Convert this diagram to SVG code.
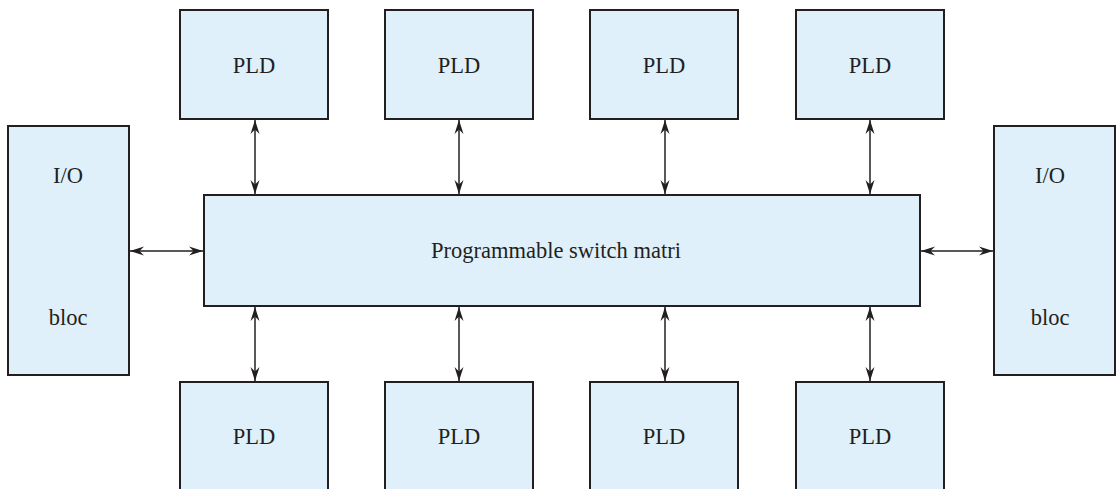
<svg xmlns="http://www.w3.org/2000/svg" width="1116" height="489" viewBox="0 0 1116 489">
<style>
.box{fill:#dff0fb;stroke:#231f20;stroke-width:2}
.lbl{font-family:"Liberation Serif","Times New Roman",serif;font-size:22.5px;fill:#231f20;text-anchor:middle}
.con{stroke:#231f20;stroke-width:1.5;fill:none;marker-start:url(#ah);marker-end:url(#ah)}
</style>
<defs>
<marker id="ah" viewBox="0 0 14 10" refX="14" refY="5" markerWidth="14" markerHeight="10" markerUnits="userSpaceOnUse" orient="auto-start-reverse">
<path d="M0,0.5 L14,5 L0,9.5 L4.5,5 z" fill="#231f20"/>
</marker>
</defs>
<rect width="1116" height="489" fill="#ffffff"/>
<g id="pld-top-1"><rect class="box" x="180" y="10" width="148" height="109"/><text class="lbl" x="254" y="73">PLD</text></g>
<g id="pld-top-2"><rect class="box" x="385" y="10" width="148" height="109"/><text class="lbl" x="459" y="73">PLD</text></g>
<g id="pld-top-3"><rect class="box" x="590" y="10" width="148" height="109"/><text class="lbl" x="664" y="73">PLD</text></g>
<g id="pld-top-4"><rect class="box" x="796" y="10" width="148" height="109"/><text class="lbl" x="870" y="73">PLD</text></g>
<g id="io-left"><rect class="box" x="8" y="126" width="121" height="249"/><text class="lbl" x="68" y="183">I/O</text><text class="lbl" x="68" y="325">bloc</text></g>
<g id="io-right"><rect class="box" x="994" y="126" width="121" height="249"/><text class="lbl" x="1050" y="183">I/O</text><text class="lbl" x="1050" y="325">bloc</text></g>
<g id="switch"><rect class="box" x="204" y="195" width="716" height="111"/><text class="lbl" x="556" y="258">Programmable switch matri</text></g>
<g id="pld-bot-1"><rect class="box" x="180" y="382" width="148" height="120"/><text class="lbl" x="254" y="444">PLD</text></g>
<g id="pld-bot-2"><rect class="box" x="385" y="382" width="148" height="120"/><text class="lbl" x="459" y="444">PLD</text></g>
<g id="pld-bot-3"><rect class="box" x="590" y="382" width="148" height="120"/><text class="lbl" x="664" y="444">PLD</text></g>
<g id="pld-bot-4"><rect class="box" x="796" y="382" width="148" height="120"/><text class="lbl" x="870" y="444">PLD</text></g>
<g id="connectors">
<line class="con" x1="255" y1="120" x2="255" y2="194"/>
<line class="con" x1="459" y1="120" x2="459" y2="194"/>
<line class="con" x1="665" y1="120" x2="665" y2="194"/>
<line class="con" x1="870" y1="120" x2="870" y2="194"/>
<line class="con" x1="255" y1="307" x2="255" y2="381"/>
<line class="con" x1="459" y1="307" x2="459" y2="381"/>
<line class="con" x1="665" y1="307" x2="665" y2="381"/>
<line class="con" x1="870" y1="307" x2="870" y2="381"/>
<line class="con" x1="130" y1="251" x2="203" y2="251"/>
<line class="con" x1="921" y1="251" x2="993" y2="251"/>
</g>
</svg>
